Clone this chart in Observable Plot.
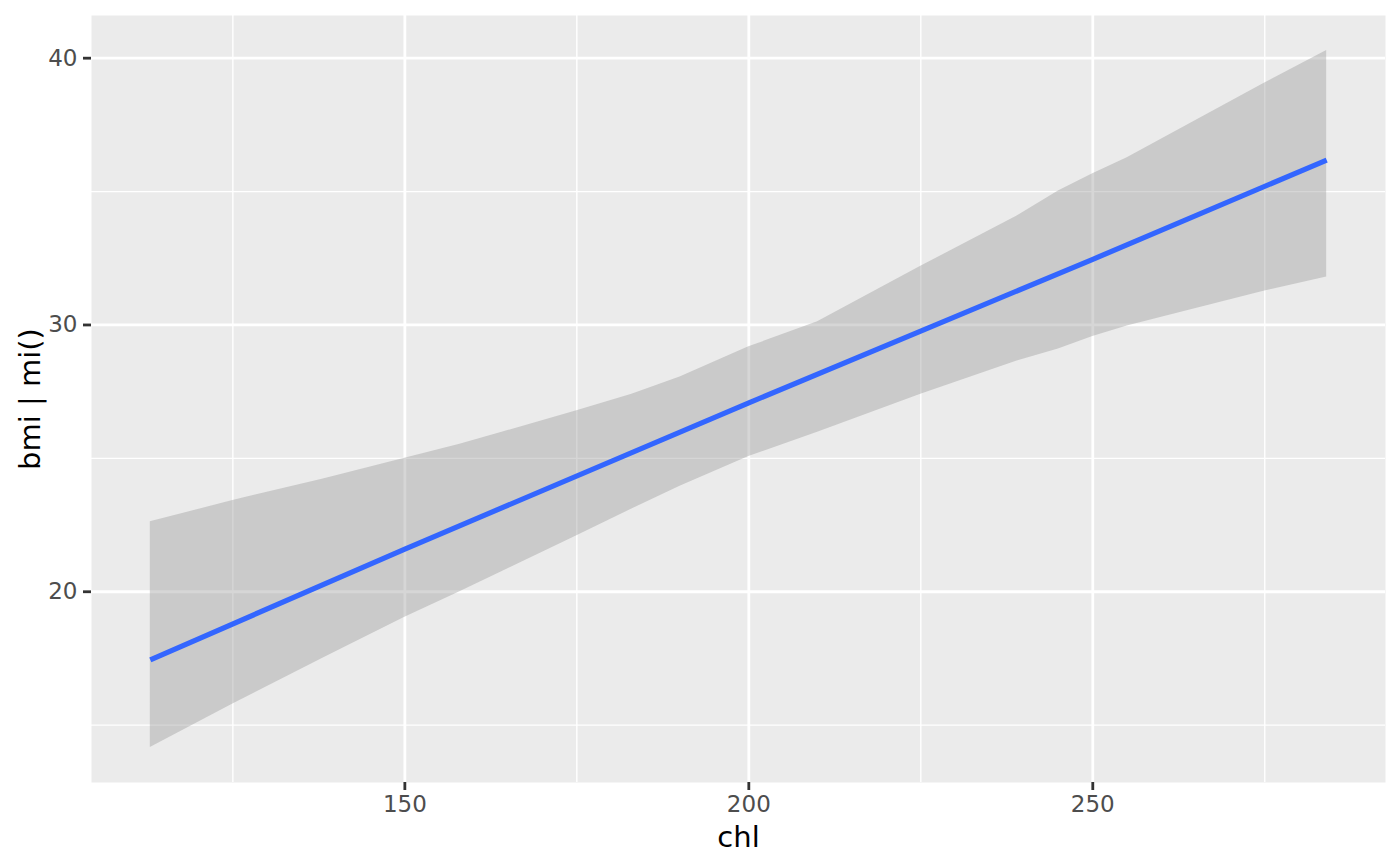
<!DOCTYPE html>
<html>
<head>
<meta charset="utf-8">
<script src="https://cdn.jsdelivr.net/npm/d3@7"></script>
<script src="https://cdn.jsdelivr.net/npm/@observablehq/plot@0.6"></script>
<style>
  html, body { margin: 0; padding: 0; background: #ffffff; }
  #chart svg { display: block; }
</style>
</head>
<body>
<div id="chart"></div>
<script>
// Confidence band (pooled fit)
const chl   = [113, 125, 138, 150, 158, 164, 175, 183, 190, 200, 210, 225, 239, 245, 250, 255, 275, 284];
const lower = [14.16, 15.79, 17.5, 19.04, 20.0, 20.74, 22.1, 23.1, 23.95, 25.07, 25.98, 27.4, 28.65, 29.1, 29.57, 29.96, 31.27, 31.8];
const upper = [22.62, 23.42, 24.22, 25.0, 25.53, 25.97, 26.78, 27.4, 28.05, 29.18, 30.12, 32.2, 34.08, 35.02, 35.67, 36.27, 39.07, 40.29];

// Fitted line
const lineChl = [113, 150, 200, 250, 284];
const fitBmi  = [17.45, 21.6, 27.08, 32.46, 36.18];

// Ticks
const xMajor = [150, 200, 250];
const xMinor = [125, 175, 225, 275];
const yMajor = [20, 30, 40];
const yMinor = [15, 25, 35];

const band = chl.map((c, i) => ({chl: c, lower: lower[i], upper: upper[i]}));
const fit = lineChl.map((c, i) => ({chl: c, bmi: fitBmi[i]}));

const font = "DejaVu Sans";

const chart = Plot.plot({
  width: 1400,
  height: 866,
  marginLeft: 91,
  marginRight: 15,
  marginTop: 15,
  marginBottom: 84,
  style: {fontFamily: font, background: "#ffffff"},
  x: {domain: [104.45, 292.55]},
  y: {domain: [12.85, 41.6]},
  marks: [
    Plot.frame({fill: "#EBEBEB", stroke: null}),
    Plot.gridX(xMinor, {stroke: "#ffffff", strokeOpacity: 1, strokeWidth: 1.4}),
    Plot.gridY(yMinor, {stroke: "#ffffff", strokeOpacity: 1, strokeWidth: 1.4}),
    Plot.gridX(xMajor, {stroke: "#ffffff", strokeOpacity: 1, strokeWidth: 2.8}),
    Plot.gridY(yMajor, {stroke: "#ffffff", strokeOpacity: 1, strokeWidth: 2.8}),
    Plot.areaY(band, {x: "chl", y1: "lower", y2: "upper", fill: "#999999", fillOpacity: 0.4}),
    Plot.line(fit, {x: "chl", y: "bmi", stroke: "#3366FF", strokeWidth: 5.2, strokeLinecap: "butt"}),
    Plot.axisX({ticks: xMajor, tickSize: 8, tickPadding: 5, fontSize: 23, stroke: "#333333", fill: "#4D4D4D", strokeWidth: 2.8, label: null}),
    Plot.axisY({ticks: yMajor, tickSize: 8, tickPadding: 6, fontSize: 23, stroke: "#333333", fill: "#4D4D4D", strokeWidth: 2.8, label: null}),
    Plot.text(["chl"], {frameAnchor: "bottom", textAnchor: "middle", lineAnchor: "bottom", dy: 64, fontSize: 29, fill: "#000000", fontFamily: font}),
    Plot.text(["bmi | mi()"], {frameAnchor: "left", textAnchor: "middle", lineAnchor: "bottom", rotate: -90, dx: -52, fontSize: 29, fill: "#000000", fontFamily: font})
  ]
});
document.getElementById("chart").appendChild(chart);
</script>
</body>
</html>
